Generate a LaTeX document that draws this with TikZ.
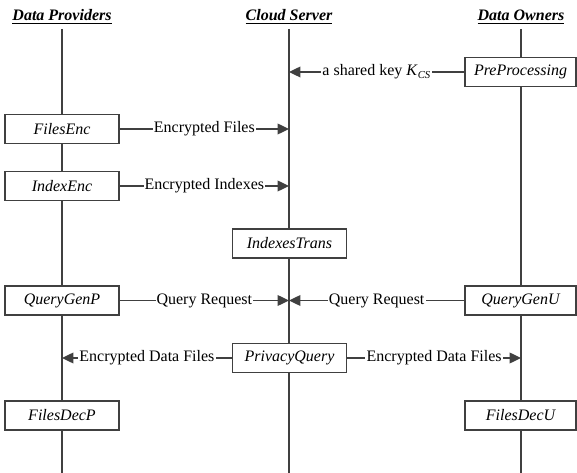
\documentclass[tikz,border=0pt]{standalone}
\usepackage{fontspec}
\setmainfont{Liberation Serif}
\usetikzlibrary{arrows.meta}
\definecolor{lineGray}{RGB}{64,64,64}
\tikzset{every picture/.style={line width=1pt}}

\begin{document}
\begin{tikzpicture}[x=0.75pt,y=0.75pt,yscale=-1,xscale=1,
  font=\fontsize{12}{14}\selectfont,
  party/.style={anchor=base, font=\fontsize{12}{14}\selectfont\bfseries\itshape},
  stepbox/.style={draw=lineGray, fill=white, minimum width=85.5pt, minimum height=21.75pt, inner sep=0pt, font=\fontsize{12}{14}\selectfont\itshape},
  lifeline/.style={draw=lineGray},
  msg/.style={draw=lineGray, -{Triangle[length=8.5pt,width=8pt]}},
  msglabel/.style={fill=white, inner sep=0.8pt, text=black}]
\useasboundingbox (0,0) rectangle (577,473);

%Text: parties
\node[party] (dp) at (62,21) {\underline{Data Providers}};
\node[party] (cs) at (289,21) {\underline{Cloud Server}};
\node[party] (do) at (521,21) {\underline{Data Owners}};

%Lifelines
\coordinate (dptop) at (62,29);  \coordinate (dpbot) at (62,473);
\coordinate (cstop) at (289,29); \coordinate (csbot) at (289,473);
\coordinate (dotop) at (521,29); \coordinate (dobot) at (521,473);
\draw[lifeline] (dptop) -- (dpbot);
\draw[lifeline] (cstop) -- (csbot);
\draw[lifeline] (dotop) -- (dobot);

%Shape: steps of the data providers
\node[stepbox] (filesenc) at (62,129) {FilesEnc};
\node[stepbox] (indexenc) at (62,186) {IndexEnc};
\node[stepbox] (querygenp) at (62,300.5) {QueryGenP};
\node[stepbox] (filesdecp) at (62,415.5) {FilesDecP};
%Shape: steps of the cloud server
\node[stepbox] (indexestrans) at (289.5,243.5) {IndexesTrans};
\node[stepbox] (privacyquery) at (289.5,358) {PrivacyQuery};
%Shape: steps of the data owners
\node[stepbox, minimum width=83.25pt] (preproc) at (520.5,72) {PreProcessing};
\node[stepbox, minimum width=83.25pt] (querygenu) at (520.5,300.5) {QueryGenU};
\node[stepbox, minimum width=83.25pt] (filesdecu) at (520.5,415.5) {FilesDecU};

%Messages
\draw[msg] (preproc) -- (preproc -| cs) node[midway, msglabel] {a shared key \textit{K}\textsubscript{\textit{CS}}};
\draw[msg] (filesenc) -- (filesenc -| cs) node[midway, msglabel] {Encrypted Files};
\draw[msg] (indexenc) -- (indexenc -| cs) node[midway, msglabel] {Encrypted Indexes};
\draw[msg] (querygenp) -- (querygenp -| cs) node[midway, msglabel] {Query Request};
\draw[msg] (querygenu) -- (querygenu -| cs) node[midway, msglabel] {Query Request};
\draw[msg] (privacyquery) -- (privacyquery -| dp) node[midway, msglabel] {Encrypted Data Files};
\draw[msg] (privacyquery) -- (privacyquery -| do) node[midway, msglabel] {Encrypted Data Files};
\end{tikzpicture}
\end{document}
